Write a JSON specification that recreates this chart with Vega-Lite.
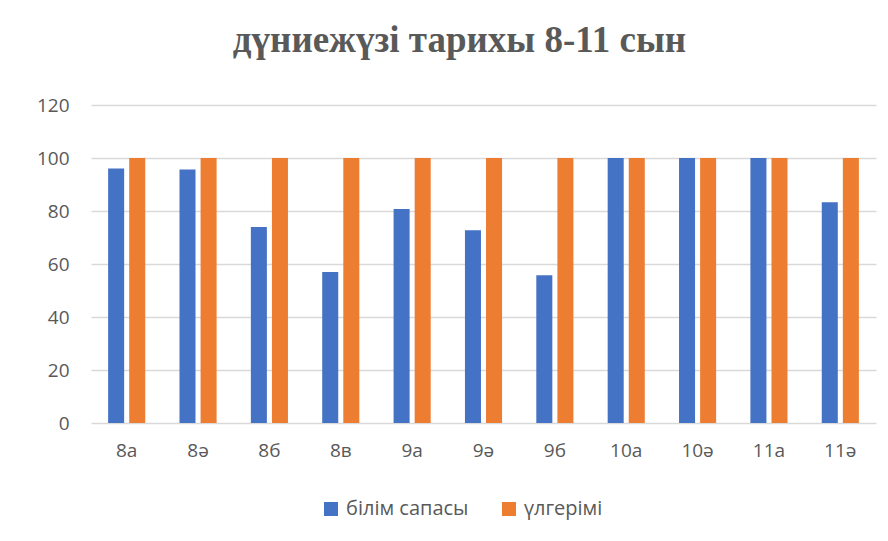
{
  "$schema": "https://vega.github.io/schema/vega-lite/v6.json",
  "width": 785,
  "height": 318,
  "autosize": {"type": "none"},
  "padding": {"left": 91, "top": 105, "right": 12, "bottom": 118},
  "background": "white",
  "title": {
    "text": "дүниежүзі тарихы 8-11 сын",
    "font": "Liberation Serif",
    "fontSize": 37,
    "fontWeight": "bold",
    "color": "#595959",
    "anchor": "middle",
    "dx": -24,
    "offset": 36
  },
  "data": {
    "values": [
      {"class": "8а", "series": "білім сапасы", "value": 96},
      {"class": "8а", "series": "үлгерімі", "value": 100},
      {"class": "8ә", "series": "білім сапасы", "value": 95.7},
      {"class": "8ә", "series": "үлгерімі", "value": 100},
      {"class": "8б", "series": "білім сапасы", "value": 74},
      {"class": "8б", "series": "үлгерімі", "value": 100},
      {"class": "8в", "series": "білім сапасы", "value": 57},
      {"class": "8в", "series": "үлгерімі", "value": 100},
      {"class": "9а", "series": "білім сапасы", "value": 80.8},
      {"class": "9а", "series": "үлгерімі", "value": 100},
      {"class": "9ә", "series": "білім сапасы", "value": 72.7},
      {"class": "9ә", "series": "үлгерімі", "value": 100},
      {"class": "9б", "series": "білім сапасы", "value": 55.8},
      {"class": "9б", "series": "үлгерімі", "value": 100},
      {"class": "10а", "series": "білім сапасы", "value": 100},
      {"class": "10а", "series": "үлгерімі", "value": 100},
      {"class": "10ә", "series": "білім сапасы", "value": 100},
      {"class": "10ә", "series": "үлгерімі", "value": 100},
      {"class": "11а", "series": "білім сапасы", "value": 100},
      {"class": "11а", "series": "үлгерімі", "value": 100},
      {"class": "11ә", "series": "білім сапасы", "value": 83.3},
      {"class": "11ә", "series": "үлгерімі", "value": 100}
    ]
  },
  "mark": {"type": "bar"},
  "encoding": {
    "x": {
      "field": "class",
      "type": "nominal",
      "sort": null,
      "scale": {"paddingInner": 0.48, "paddingOuter": 0.24},
      "axis": {
        "title": null,
        "labelAngle": 0,
        "domain": false,
        "ticks": false,
        "labelPadding": 18,
        "labelFont": "Open Sans",
        "labelFontSize": 19,
        "labelColor": "#595959"
      }
    },
    "xOffset": {
      "field": "series",
      "type": "nominal",
      "scale": {"paddingInner": 0.24, "paddingOuter": 0}
    },
    "y": {
      "field": "value",
      "type": "quantitative",
      "scale": {"domain": [0, 120], "nice": false},
      "axis": {
        "title": null,
        "values": [0, 20, 40, 60, 80, 100, 120],
        "domain": false,
        "ticks": false,
        "labelPadding": 22,
        "labelFont": "Open Sans",
        "labelFontSize": 19,
        "labelColor": "#595959",
        "gridColor": "#d9d9d9",
        "gridWidth": 1.5
      }
    },
    "color": {
      "field": "series",
      "type": "nominal",
      "scale": {"domain": ["білім сапасы", "үлгерімі"], "range": ["#4472C4", "#ED7D31"]},
      "legend": {
        "title": null,
        "orient": "none",
        "direction": "horizontal",
        "legendX": 230,
        "legendY": 394,
        "symbolType": "square",
        "symbolSize": 196,
        "symbolStrokeWidth": 0,
        "symbolOpacity": 1,
        "labelFont": "Open Sans",
        "labelFontSize": 20,
        "labelColor": "#595959",
        "labelOffset": 5,
        "columnPadding": 30,
        "padding": 0
      }
    }
  },
  "config": {
    "view": {"stroke": null}
  }
}
